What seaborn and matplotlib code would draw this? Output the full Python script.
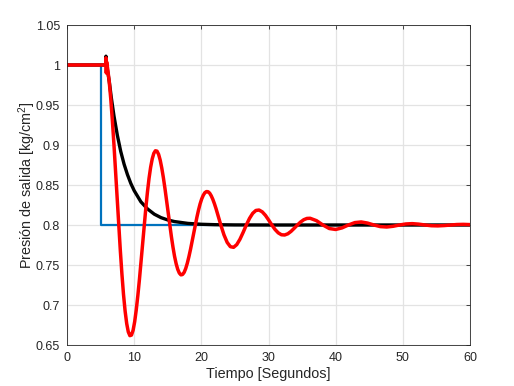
import matplotlib
matplotlib.use("Agg")
import matplotlib.pyplot as plt
import seaborn as sns

# ── Data ─────────────────────────────────────────────────────────────────────
# setpoint (step)
t_ref = [0, 5, 5, 60]
p_ref = [1.0, 1.0, 0.8, 0.8]

# well-tuned response (black)
t_black = [0, 5.75, 5.8, 5.85, 6.0, 6.3, 6.6, 7.0, 7.5, 8.0, 8.5, 9.0, 9.5, 10,
           11, 12, 13, 14, 15, 16, 18, 20, 22, 25, 30, 40, 60]
p_black = [1.0, 1.0, 1.011, 1.0, 0.995, 0.979, 0.959, 0.936, 0.912, 0.892, 0.876,
           0.863, 0.852, 0.843, 0.829, 0.820, 0.8135, 0.8092, 0.8063, 0.8043,
           0.802, 0.8009, 0.8004, 0.8001, 0.8, 0.8, 0.8]

# oscillating response (red)
t_red = [0, 5.75, 5.8, 5.85, 5.9, 6.04, 6.275, 6.51, 6.75, 6.99, 7.225, 7.46,
         7.7, 7.94, 8.175, 8.41, 8.65, 8.89, 9.125, 9.36, 9.6, 9.84, 10.075,
         10.31, 10.55, 10.79, 11.025, 11.26, 11.5, 11.74, 11.975, 12.21, 12.45,
         12.69, 12.925, 13.16, 13.4, 13.64, 13.875, 14.11, 14.35, 14.59, 14.825,
         15.06, 15.3, 15.54, 15.775, 16.01, 16.25, 16.49, 16.725, 16.96, 17.2,
         17.44, 17.675, 17.91, 18.15, 18.39, 18.625, 18.86, 19.1, 19.34, 19.575,
         19.81, 20.05, 20.29, 20.525, 20.76, 21.0, 21.24, 21.475, 21.71, 21.95,
         22.19, 22.425, 22.66, 22.9, 23.375, 23.85, 24.325, 24.8, 25.275,
         25.75, 26.225, 26.7, 27.175, 27.65, 28.125, 28.6, 29.075, 29.55, 30.025,
         30.5, 30.975, 31.45, 31.925, 32.4, 32.875, 33.35, 33.825, 34.3, 34.775,
         35.25, 35.725, 36.2, 37.15, 38.1, 39.05, 40.0, 40.95, 41.9, 42.85, 43.8,
         44.75, 45.7, 46.65, 47.6, 48.55, 49.5, 50.45, 51.4, 52.35, 53.3, 54.25,
         55.2, 56.15, 57.1, 58.05, 59.0, 60.0]
p_red = [1.0, 1.0, 1.009, 0.99, 1.004, 0.9961, 0.9802, 0.9582, 0.9312, 0.9005,
         0.8676, 0.8336, 0.8, 0.7680, 0.7389, 0.7134, 0.6925, 0.6767, 0.6664,
         0.6617, 0.6624, 0.6684, 0.6791, 0.6939, 0.7120, 0.7325, 0.7547, 0.7775,
         0.8, 0.8214, 0.8410, 0.8581, 0.8721, 0.8827, 0.8896, 0.8928, 0.8923,
         0.8883, 0.8811, 0.8712, 0.8591, 0.8453, 0.8304, 0.8151, 0.8, 0.7856,
         0.7725, 0.7610, 0.7516, 0.7445, 0.7399, 0.7377, 0.7381, 0.7408, 0.7456,
         0.7522, 0.7604, 0.7696, 0.7796, 0.7899, 0.8, 0.8097, 0.8185, 0.8262,
         0.8325, 0.8372, 0.8404, 0.8418, 0.8416, 0.8398, 0.8365, 0.8321, 0.8266,
         0.8204, 0.8137, 0.8068, 0.8,
         0.7876, 0.7782, 0.7729, 0.7721, 0.7755, 0.7822, 0.7908, 0.8, 0.8083,
         0.8146, 0.8182, 0.8187, 0.8164, 0.8120, 0.8062, 0.8, 0.7944, 0.7902,
         0.7878, 0.7875, 0.7890, 0.7920, 0.7959, 0.8, 0.8037, 0.8066, 0.8082,
         0.8084, 0.8054, 0.8, 0.7956, 0.7944, 0.7964, 0.8, 0.8030, 0.8038,
         0.8024, 0.8, 0.7980, 0.7975, 0.7984, 0.8, 0.8013, 0.8017, 0.8011, 0.8,
         0.7991, 0.7989, 0.7993, 0.8, 0.8006, 0.8008, 0.8005]

x_ticks = [0, 10, 20, 30, 40, 50, 60]
y_ticks = [0.65, 0.7, 0.75, 0.8, 0.85, 0.9, 0.95, 1.0, 1.05]
y_tick_labels = ["0.65", "0.7", "0.75", "0.8", "0.85", "0.9", "0.95", "1", "1.05"]

# ── Style ────────────────────────────────────────────────────────────────────
sns.set_style("white")
plt.rcParams["font.family"] = ["Liberation Sans", "DejaVu Sans"]
plt.rcParams["mathtext.fontset"] = "custom"
plt.rcParams["mathtext.rm"] = "Liberation Sans"
plt.rcParams["mathtext.it"] = "Liberation Sans"

fig = plt.figure(figsize=(5.14, 3.86), dpi=100)
ax = fig.add_axes([67 / 514, 1 - 345 / 386, 403 / 514, 320 / 386])

sns.lineplot(x=t_ref, y=p_ref, color="#0072BD", lw=1.6,
             estimator=None, sort=False, ax=ax)
sns.lineplot(x=t_black, y=p_black, color="black", lw=2.4,
             estimator=None, sort=False, ax=ax, solid_joinstyle="round")
sns.lineplot(x=t_red, y=p_red, color="#FF0000", lw=2.5,
             estimator=None, sort=False, ax=ax, solid_joinstyle="round")

ax.set_xlim(0, 60)
ax.set_ylim(0.65, 1.05)
ax.set_xticks(x_ticks)
ax.set_xticklabels([str(v) for v in x_ticks])
ax.set_yticks(y_ticks)
ax.set_yticklabels(y_tick_labels)

ax.grid(True, color="#e3e3e3", lw=0.9)
ax.set_axisbelow(True)
for sp in ax.spines.values():
    sp.set_color("#262626")
    sp.set_linewidth(0.6)
ax.tick_params(direction="in", length=3, width=0.6, color="#262626",
               top=True, right=True, labelsize=9, labelcolor="#262626", pad=5)

ax.set_xlabel("Tiempo [Segundos]", fontsize=10.4, color="#262626", labelpad=2)
ax.set_ylabel("Presión de salida [kg/cm$^2$]", fontsize=10.4, color="#262626",
              labelpad=-1.5)

plt.savefig("out.png", dpi=100)
plt.close()
